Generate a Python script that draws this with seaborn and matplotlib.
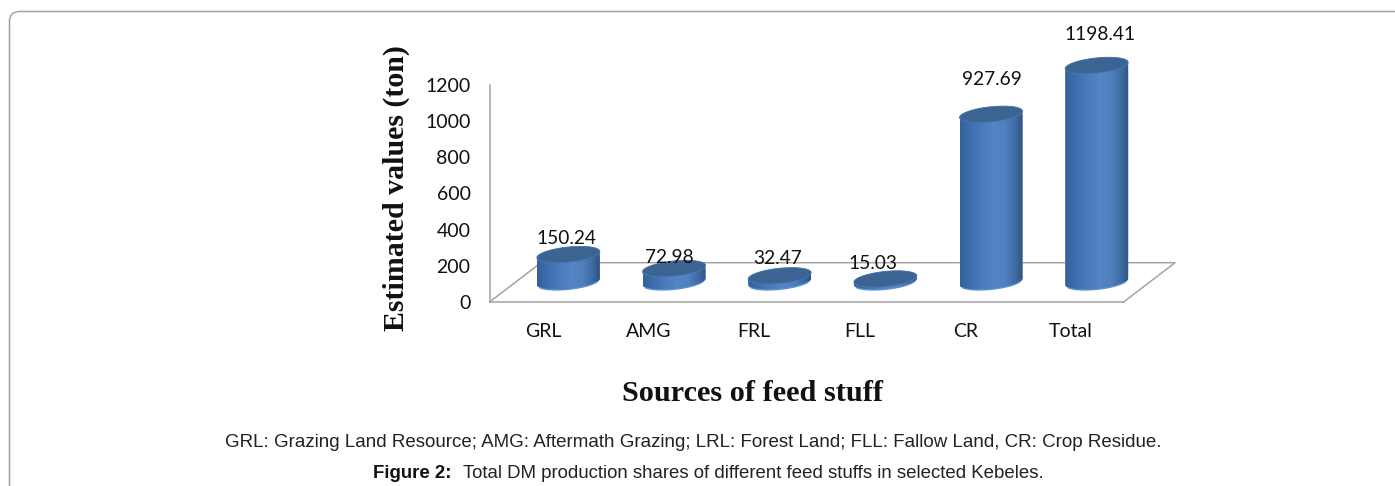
import numpy as np
import seaborn as sns
import matplotlib
matplotlib.use('Agg')
import matplotlib.pyplot as plt
from matplotlib.colors import LinearSegmentedColormap
from matplotlib.patches import FancyBboxPatch, PathPatch
from matplotlib.path import Path
from matplotlib.transforms import IdentityTransform, ScaledTranslation

categories = ['GRL', 'AMG', 'FRL', 'FLL', 'CR', 'Total']
values = [150.24, 72.98, 32.47, 15.03, 927.69, 1198.41]
value_labels = ['150.24', '72.98', '32.47', '15.03', '927.69', '1198.41']
y_ticks = [0, 200, 400, 600, 800, 1000, 1200]

W, H = 1395, 486
DPI = 100
# plot box in picture pixels
X0, X1, Y_TOP, Y_BOT = 490, 1124, 85.2, 301.7
DEPTH_X, DEPTH_Y = 25.5, 20   # bars sit half way back on the floor
BAR_PX = 63
HALF_B = 7.6    # ellipse minor half axis, px
SLANT = 0.1     # ellipse tilt
LABEL_GAP = [16, 11, 17.5, 15.5, 35, 30.5]
LABEL_DX = [-1.5, -4.5, -2.5, -12, 1, 3.5]
GRAY = '#a3a3a3'

sns.set_style('white')
plt.rcParams['font.family'] = ['Lato', 'DejaVu Sans']

fig = plt.figure(figsize=(W / DPI, H / DPI), dpi=DPI)
ax = fig.add_axes([X0 / W, 1 - Y_BOT / H, (X1 - X0) / W, (Y_BOT - Y_TOP) / H])

sns.barplot(x=categories, y=values, ax=ax, color='#4a7ab8', saturation=1,
            width=BAR_PX / ((X1 - X0) / 6), zorder=2)
ax.set_xlim(-0.5, 5.5)
ax.set_ylim(0, 1200)
ax.set_yticks(y_ticks)

x_px = (X1 - X0) / 6
y_px = (Y_BOT - Y_TOP) / 1200
depth = ax.transData + ScaledTranslation(DEPTH_X / DPI, DEPTH_Y / DPI, fig.dpi_scale_trans)

body_cmap = LinearSegmentedColormap.from_list('body', [
    (0.0, '#34609a'), (0.12, '#3a6bab'), (0.35, '#4a7ab9'), (0.55, '#5585c6'),
    (0.72, '#4f7fbd'), (0.88, '#3f6ba3'), (1.0, '#30537f')])


def ellipse(cx, cy, a, t):
    return np.column_stack([cx + a * np.cos(t),
                            cy + (HALF_B * np.sin(t) + SLANT * a * x_px * np.cos(t)) / y_px])


for bar, value, label, gap, dx in zip(ax.patches, values, value_labels, LABEL_GAP, LABEL_DX):
    cx = bar.get_x() + bar.get_width() / 2
    a = bar.get_width() / 2
    # silhouette: top half of the upper ellipse + lower half of the base
    upper = ellipse(cx, value, a, np.linspace(0, np.pi, 60))
    lower = ellipse(cx, 0, a, np.linspace(np.pi, 2 * np.pi, 60))
    outline = Path(np.vstack([upper, lower, upper[:1]]), closed=True)

    bar.set_transform(depth)
    bar.set_clip_box(fig.bbox)
    bar.set_clip_path(outline, depth)

    grad = np.linspace(0, 1, 256).reshape(1, -1)
    im = ax.imshow(grad, cmap=body_cmap, aspect='auto', zorder=3,
                   extent=(cx - a, cx + a, -100, value + 100))
    im.set_transform(depth)
    im.set_clip_box(fig.bbox)
    im.set_clip_path(outline, depth)

    # lighter rim along the base
    ax.plot(lower[8:52, 0], lower[8:52, 1], color='#5c90d2', lw=1, transform=depth,
            clip_on=False, zorder=3.5)

    top = ellipse(cx, value, a, np.linspace(0, 2 * np.pi, 120))
    ax.add_patch(PathPatch(Path(top, closed=True), facecolor='#3b6493', edgecolor='#4a78b2',
                           lw=0.6, transform=depth, clip_on=False, zorder=4))

    ax.annotate(label, (cx, value), xycoords=depth, xytext=(dx * 0.72, gap * 0.72),
                textcoords='offset points', ha='center', va='center',
                fontsize=13.8, color='#111111', zorder=5, annotation_clip=False)

ax.set_xlim(-0.5, 5.5)
ax.set_ylim(0, 1200)

# floor outline
back_dx = 2 * DEPTH_X / x_px
back_dy = 39 / y_px
ax.plot([-0.5, -0.5 + back_dx, 5.5 + back_dx, 5.5], [0, back_dy, back_dy, 0],
        color=GRAY, lw=1.1, clip_on=False, zorder=1)

sns.despine(ax=ax, top=True, right=True)
for side in ['left', 'bottom']:
    ax.spines[side].set_color(GRAY)
    ax.spines[side].set_linewidth(1.1)
ax.tick_params(axis='y', length=0, pad=14, labelsize=14, labelcolor='#111111')
ax.tick_params(axis='x', length=0, pad=15, labelsize=14, labelcolor='#111111')
ax.patch.set_alpha(0)

serif = ['Liberation Serif', 'DejaVu Serif']
sans = ['Liberation Sans', 'DejaVu Sans']
fig.text(396 / W, 1 - 188 / H, 'Estimated values (ton)', rotation=90, ha='center', va='center',
         family=serif, weight='bold', fontsize=21.5, color='#111111')
fig.text(752.5 / W, 1 - 393 / H, 'Sources of feed stuff', ha='center', va='center',
         family=serif, weight='bold', fontsize=21.8, color='#111111')
fig.text(693.5 / W, 1 - 442 / H,
         'GRL: Grazing Land Resource; AMG: Aftermath Grazing; LRL: Forest Land; FLL: Fallow Land, CR: Crop Residue.',
         ha='center', va='center', family=sans, fontsize=13.5, color='#222222')
fig.text(372.5 / W, 1 - 473 / H, 'Figure 2:', ha='left', va='center', family=sans, weight='bold',
         fontsize=13.4, color='#111111')
fig.text(1044 / W, 1 - 473 / H, 'Total DM production shares of different feed stuffs in selected Kebeles.',
         ha='right', va='center', family=sans, fontsize=13.4, color='#222222')

# card border, runs off the right and bottom of the picture
fig.add_artist(FancyBboxPatch((9.5, -30), 1500, H + 30 - 11.5,
                              boxstyle='round,pad=0,rounding_size=10', transform=IdentityTransform(),
                              fill=False, edgecolor=GRAY, lw=1.1))

fig.savefig('out.png', dpi=DPI)
